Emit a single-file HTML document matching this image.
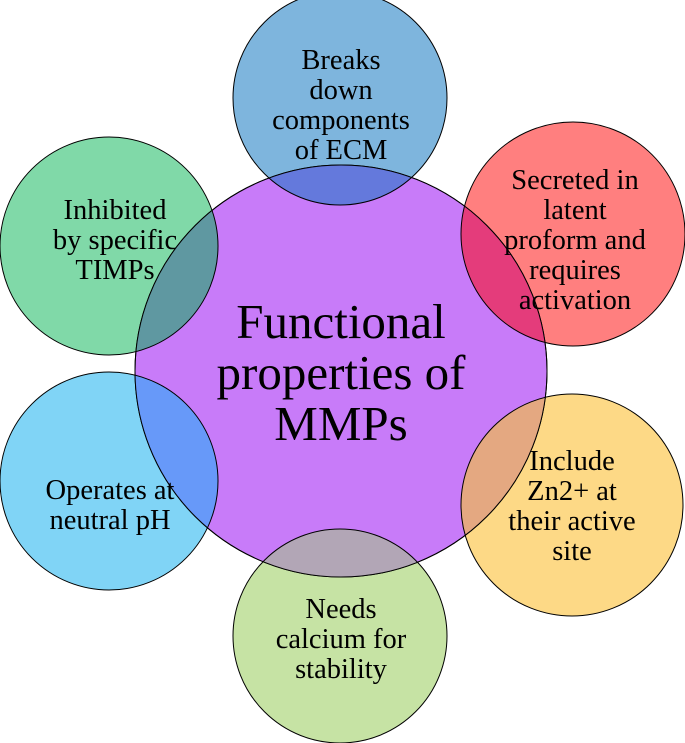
<!DOCTYPE html>
<html><head><style>html,body{margin:0;padding:0;background:#fff}svg{display:block}</style></head><body>
<svg width="685" height="743" viewBox="0 0 685 743" xmlns="http://www.w3.org/2000/svg" font-family="'Liberation Serif', serif" text-anchor="middle">
<defs>
<clipPath id="cc"><circle cx="341" cy="371" r="206"/></clipPath>
</defs>
<g stroke="#000" stroke-width="1">
<circle cx="340" cy="98" r="107" fill="#7eb5dd"/>
<circle cx="573" cy="234" r="112" fill="#ff7f7f"/>
<circle cx="572" cy="505" r="111" fill="#fdd986"/>
<circle cx="340" cy="636" r="107" fill="#c6e3a4"/>
<circle cx="109" cy="481" r="109" fill="#80d4f6"/>
<circle cx="109" cy="246" r="109" fill="#80d9a8"/>
<circle cx="341" cy="371" r="206" fill="#c87bf9"/>
</g>
<g clip-path="url(#cc)" stroke="#000" stroke-width="1">
<circle cx="340" cy="98" r="107" fill="#6479dc"/>
<circle cx="573" cy="234" r="112" fill="#e43c7b"/>
<circle cx="572" cy="505" r="111" fill="#e4a881"/>
<circle cx="340" cy="636" r="107" fill="#b2a6b6"/>
<circle cx="109" cy="481" r="109" fill="#6799f9"/>
<circle cx="109" cy="246" r="109" fill="#5f98a1"/>
</g>
<circle cx="341" cy="371" r="206" fill="none" stroke="#000" stroke-width="1"/>
<g font-size="28.5" fill="#000">
<text x="341" y="69">Breaks</text><text x="341" y="99">down</text><text x="341" y="129">components</text><text x="341" y="159">of ECM</text>
<text x="575" y="189">Secreted in</text><text x="575" y="219">latent</text><text x="575" y="249">proform and</text><text x="575" y="279">requires</text><text x="575" y="309">activation</text>
<text x="115" y="219">Inhibited</text><text x="115" y="249">by specific</text><text x="115" y="279">TIMPs</text>
<text x="110" y="499">Operates at</text><text x="110" y="529">neutral pH</text>
<text x="572" y="470">Include</text><text x="572" y="500">Zn2+ at</text><text x="572" y="530">their active</text><text x="572" y="560">site</text>
<text x="341" y="618">Needs</text><text x="341" y="648">calcium for</text><text x="341" y="678">stability</text>
</g>
<g font-size="49" fill="#000">
<text x="341" y="338">Functional</text><text x="341" y="389">properties of</text><text x="341" y="440">MMPs</text>
</g>
</svg>
</body></html>
